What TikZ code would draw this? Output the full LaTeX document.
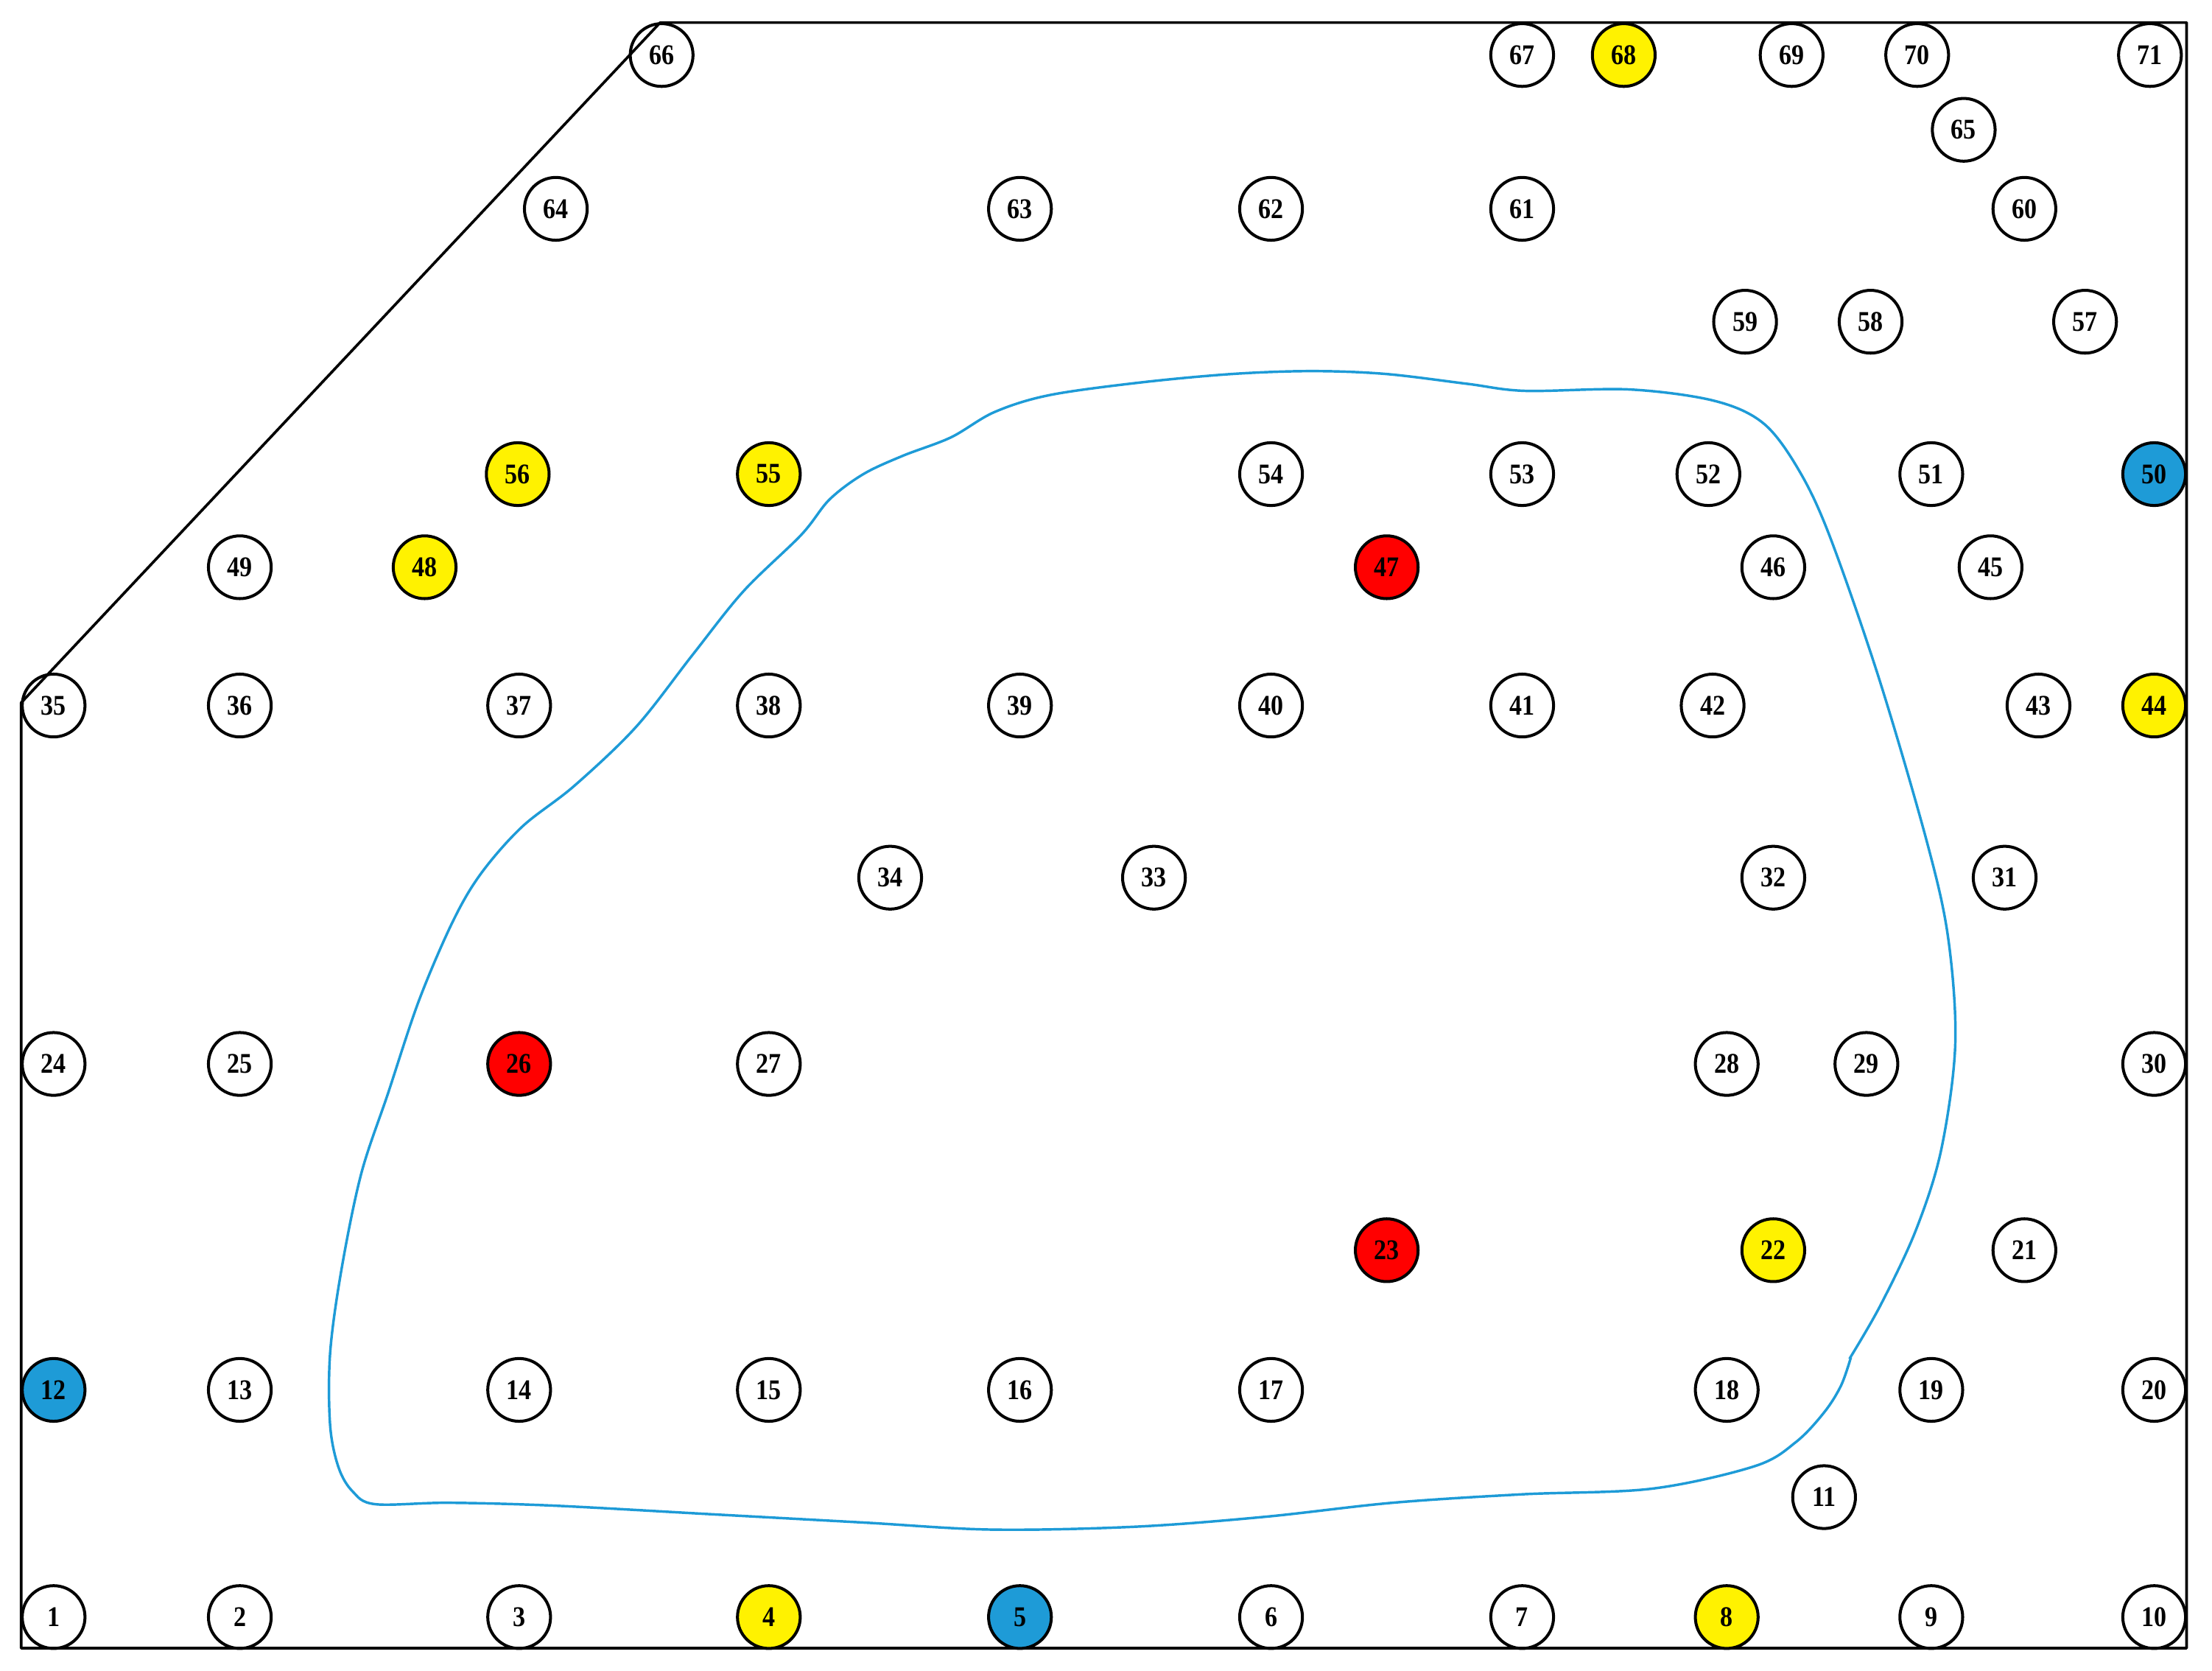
\documentclass[tikz,border=0pt]{standalone}
\usepackage{fontspec}
\newfontfamily\sitefont[FakeStretch=0.88]{Liberation Serif}
\definecolor{siteblue}{RGB}{30,155,215}
\tikzset{
    site/.style={circle,draw=black,line width=0.42mm,minimum size=8.9mm,inner sep=0pt,
        font={\fontsize{11.5}{13}\sitefont\bfseries}},
    yellowsite/.style={site,fill=yellow},
    redsite/.style={site,fill=red},
    bluesite/.style={site,fill=siteblue},
}
\begin{document}
\begin{tikzpicture}[x=0.2mm,y=-0.2mm]
    \useasboundingbox (0,0) rectangle (1568,1184);
    % Outline of the field, with the cut corner at the top left
    \draw[line width=0.38mm,line join=round] (15,1168) -- (1550,1168) -- (1550,16)
        -- (468,16) -- (15,498) -- cycle;
    % Closed region drawn as a free hand curve
    \draw[draw=siteblue,line width=0.36mm] plot[smooth,tension=0.55] coordinates {
        (1311,963) (1333,925) (1358,872) (1376,815) (1386,740) (1381,665)
        (1366,597) (1332,481) (1297,380) (1275,333) (1250,300) (1215,284)
        (1155,276) (1081,277) (1040,272) (982,265) (930,263) (874,265)
        (809,271) (744,280) (705,292) (674,310) (640,323) (612,336)
        (588,354) (568,379) (527,419) (491,464) (451,515) (407,557)
        (370,586) (341,619) (321,653) (297,709) (275,775) (256,832)
        (242,900) (234,959) (234,1010) (240,1040) (250,1057) (266,1066)
        (318,1065) (392,1067) (502,1073) (612,1079) (703,1084) (804,1082)
        (896,1075) (987,1065) (1079,1059) (1171,1055) (1244,1039) (1273,1022)
        (1293,1001) (1305,982) (1312,962)};
    % Bottom row
    \node[site] (s1) at (38,1146) {1};
    \node[site] (s2) at (170,1146) {2};
    \node[site] (s3) at (368,1146) {3};
    \node[yellowsite] (s4) at (545,1146) {4};
    \node[bluesite] (s5) at (723,1146) {5};
    \node[site] (s6) at (901,1146) {6};
    \node[site] (s7) at (1079,1146) {7};
    \node[yellowsite] (s8) at (1224,1146) {8};
    \node[site] (s9) at (1369,1146) {9};
    \node[site] (s10) at (1527,1146) {10};
    \node[site] (s11) at (1293,1061) {11};
    % Second row
    \node[bluesite] (s12) at (38,985) {12};
    \node[site] (s13) at (170,985) {13};
    \node[site] (s14) at (368,985) {14};
    \node[site] (s15) at (545,985) {15};
    \node[site] (s16) at (723,985) {16};
    \node[site] (s17) at (901,985) {17};
    \node[site] (s18) at (1224,985) {18};
    \node[site] (s19) at (1369,985) {19};
    \node[site] (s20) at (1527,985) {20};
    \node[site] (s21) at (1435,886) {21};
    \node[yellowsite] (s22) at (1257,886) {22};
    \node[redsite] (s23) at (983,886) {23};
    % Middle rows
    \node[site] (s24) at (38,754) {24};
    \node[site] (s25) at (170,754) {25};
    \node[redsite] (s26) at (368,754) {26};
    \node[site] (s27) at (545,754) {27};
    \node[site] (s28) at (1224,754) {28};
    \node[site] (s29) at (1323,754) {29};
    \node[site] (s30) at (1527,754) {30};
    \node[site] (s31) at (1421,622) {31};
    \node[site] (s32) at (1257,622) {32};
    \node[site] (s33) at (818,622) {33};
    \node[site] (s34) at (631,622) {34};
    \node[site] (s35) at (38,500) {35};
    \node[site] (s36) at (170,500) {36};
    \node[site] (s37) at (368,500) {37};
    \node[site] (s38) at (545,500) {38};
    \node[site] (s39) at (723,500) {39};
    \node[site] (s40) at (901,500) {40};
    \node[site] (s41) at (1079,500) {41};
    \node[site] (s42) at (1214,500) {42};
    \node[site] (s43) at (1445,500) {43};
    \node[yellowsite] (s44) at (1527,500) {44};
    \node[site] (s45) at (1411,402) {45};
    \node[site] (s46) at (1257,402) {46};
    \node[redsite] (s47) at (983,402) {47};
    \node[yellowsite] (s48) at (301,402) {48};
    \node[site] (s49) at (170,402) {49};
    % Upper rows
    \node[bluesite] (s50) at (1527,336) {50};
    \node[site] (s51) at (1369,336) {51};
    \node[site] (s52) at (1211,336) {52};
    \node[site] (s53) at (1079,336) {53};
    \node[site] (s54) at (901,336) {54};
    \node[yellowsite] (s55) at (545,336) {55};
    \node[yellowsite] (s56) at (367,336) {56};
    \node[site] (s57) at (1478,228) {57};
    \node[site] (s58) at (1326,228) {58};
    \node[site] (s59) at (1237,228) {59};
    \node[site] (s60) at (1435,148) {60};
    \node[site] (s61) at (1079,148) {61};
    \node[site] (s62) at (901,148) {62};
    \node[site] (s63) at (723,148) {63};
    \node[site] (s64) at (394,148) {64};
    \node[site] (s65) at (1392,92) {65};
    % Top row
    \node[site] (s66) at (469,39) {66};
    \node[site] (s67) at (1079,39) {67};
    \node[yellowsite] (s68) at (1151,39) {68};
    \node[site] (s69) at (1270,39) {69};
    \node[site] (s70) at (1359,39) {70};
    \node[site] (s71) at (1524,39) {71};
\end{tikzpicture}
\end{document}
